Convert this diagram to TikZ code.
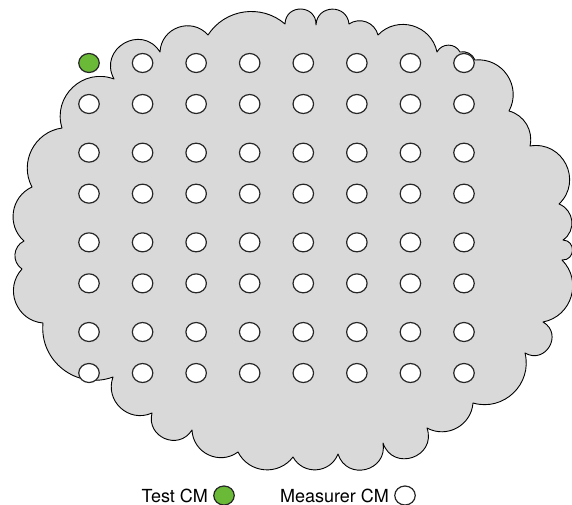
\documentclass[tikz,border=0pt]{standalone}
\usepackage{fontspec}
\setmainfont{TeX Gyre Heros}
\usetikzlibrary{positioning,shapes.geometric}

\definecolor{cloudgray}{RGB}{217,217,217}
\definecolor{testgreen}{RGB}{106,185,55}

\begin{document}
\begin{tikzpicture}[x=1pt, y=-1pt, line join=round,
    measurercm/.style={draw=black!85, line width=1.2pt, ellipse, inner sep=0pt,
        minimum width=20.5pt, minimum height=19pt, fill=white},
    testcm/.style={measurercm, fill=testgreen},
    legend/.style={font=\fontsize{18}{21}\selectfont, inner sep=0pt}]

    % page size of the reference
    \useasboundingbox (0,0) rectangle (572,505);

    % let's define the grid spacing
    \def\xstep{53.57}
    \def\ypair{89.67}
    \def\ygap{41}

    % cloud: cusp points, each with the bend angle of the puff leading to it
    \filldraw[fill=cloudgray, draw=black, line width=0.9pt] (114,79)
        foreach \px/\py/\ang [evaluate=\ang as \loose using 1.702/(1+cos(\ang))] in
        {160/52/88, 208/35/68, 285/24/49, 316/25/90, 349/24/86, 378/35/55,
         437/52/62, 460/52/62, 475/60/40, 509/111/62, 530/146/44, 559/204/73,
         563/240/62, 562/260/90, 543/322/62, 525/353/90, 473/403/60,
         427/428/57, 383/443/90, 338/454/86, 293/457/65, 238/452/58,
         192/430/62, 152/413/81, 113/377/67, 43/323/58, 22/269/64,
         24/241/60, 32/187/57, 62/128/55, 114/79/64}
        { to[bend left=\ang, looseness=\loose] (\px,\py) } -- cycle;

    % CM grid, 8 x 8, the top left one is the test CM
    \foreach \i in {0,...,7}
      \foreach \j in {0,...,7}{
        \pgfmathsetmacro\cx{89+\i*\xstep}
        \pgfmathsetmacro\cy{63+int(\j/2)*\ypair+mod(\j,2)*\ygap}
        \ifnum\i\j=00 \node[testcm] (test) at (\cx,\cy) {};
        \else \node[measurercm] (m\i\j) at (\cx,\cy) {}; \fi
      }

    % legend
    \node[testcm] (testkey) at (224,495.5) {};
    \node[legend, left=5pt of testkey] (testlbl) {Test CM};
    \node[measurercm] (measkey) at (405,495.5) {};
    \node[legend, left=5pt of measkey] (measlbl) {Measurer CM};

\end{tikzpicture}
\end{document}
